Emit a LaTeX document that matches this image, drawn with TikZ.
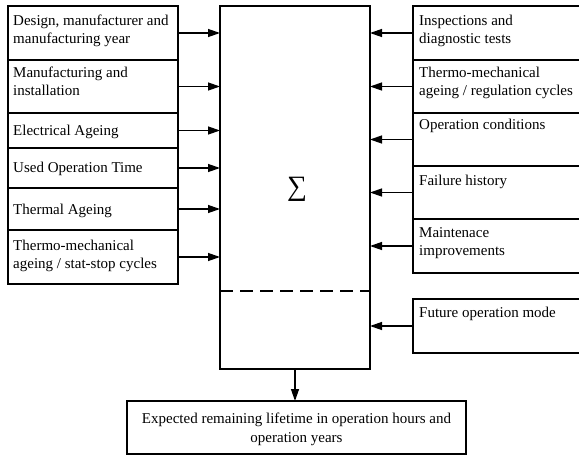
\documentclass[tikz,border=0pt]{standalone}
\usepackage{fontspec}
\setmainfont{Liberation Serif}
\usetikzlibrary{arrows.meta}
\begin{document}
\begin{tikzpicture}[x=1pt,y=-1pt,
  box/.style={draw,line width=1.3pt,inner sep=0pt,outer sep=0pt,anchor=north west},
  txt/.style={anchor=base west,align=left,inner sep=0pt,font=\fontsize{15}{18}\selectfont},
  ctxt/.style={anchor=base,align=center,inner sep=0pt,font=\fontsize{15}{19}\selectfont},
  arr/.style={line width=1.3pt,-{Triangle[length=12pt,width=8pt]}}]
\useasboundingbox (0,0) rectangle (579,458);
% central box
\node[box,minimum width=150pt,minimum height=363pt] (C) at (220,6) {};
\coordinate (dl) at (220,291);
\coordinate (dr) at (370,291);
\draw[line width=1.3pt,dash pattern=on 13pt off 7pt] (dl) -- (dr);
\node[inner sep=0pt] (S) at (297,189) {\fontsize{28}{28}\selectfont ∑};
% left boxes
\node[box,minimum width=170pt,minimum height=54pt] (L1) at (8,6) {};
\node[box,minimum width=170pt,minimum height=53pt] (L2) at (8,60) {};
\node[box,minimum width=170pt,minimum height=35pt] (L3) at (8,113) {};
\node[box,minimum width=170pt,minimum height=40pt] (L4) at (8,148) {};
\node[box,minimum width=170pt,minimum height=42pt] (L5) at (8,188) {};
\node[box,minimum width=170pt,minimum height=54pt] (L6) at (8,230) {};
\node[txt] (tL1) at (13,43) {Design, manufacturer and\\manufacturing year};
\node[txt] (tL2) at (13,95) {Manufacturing and\\installation};
\node[txt] (tL3) at (13,135) {Electrical Ageing};
\node[txt] (tL4) at (13,172) {Used Operation Time};
\node[txt] (tL5) at (13,214) {Thermal Ageing};
\node[txt] (tL6) at (13,268) {Thermo-mechanical\\ageing / stat-stop cycles};
\foreach \n in {L1,L2,L3,L4,L5,L6}
  \draw[arr] (\n.east) -- (\n.east -| C.west);
% right boxes
\node[box,minimum width=170pt,minimum height=54pt] (R1) at (413,6) {};
\node[box,minimum width=170pt,minimum height=53pt] (R2) at (413,60) {};
\node[box,minimum width=170pt,minimum height=53pt] (R3) at (413,113) {};
\node[box,minimum width=170pt,minimum height=53pt] (R4) at (413,166) {};
\node[box,minimum width=170pt,minimum height=54pt] (R5) at (413,219) {};
\node[box,minimum width=170pt,minimum height=54pt] (R6) at (413,299) {};
\node[txt] (tR1) at (419,43) {Inspections and\\diagnostic tests};
\node[txt] (tR2) at (419,95) {Thermo-mechanical\\ageing / regulation cycles};
\node[txt] (tR3) at (419,129) {Operation conditions};
\node[txt] (tR4) at (419,185) {Failure history};
\node[txt] (tR5) at (419,255) {Maintenace\\improvements};
\node[txt] (tR6) at (419,317) {Future operation mode};
\foreach \n in {R1,R2,R3,R4,R5,R6}
  \draw[arr] (\n.west) -- (\n.west -| C.east);
% bottom box
\node[box,minimum width=339pt,minimum height=53pt] (B) at (127,401) {};
\node[ctxt] (tB) at (296.5,442) {Expected remaining lifetime in operation hours and\\operation years};
\draw[arr] (C.south) -- (C.south |- B.north);
\end{tikzpicture}
\end{document}
